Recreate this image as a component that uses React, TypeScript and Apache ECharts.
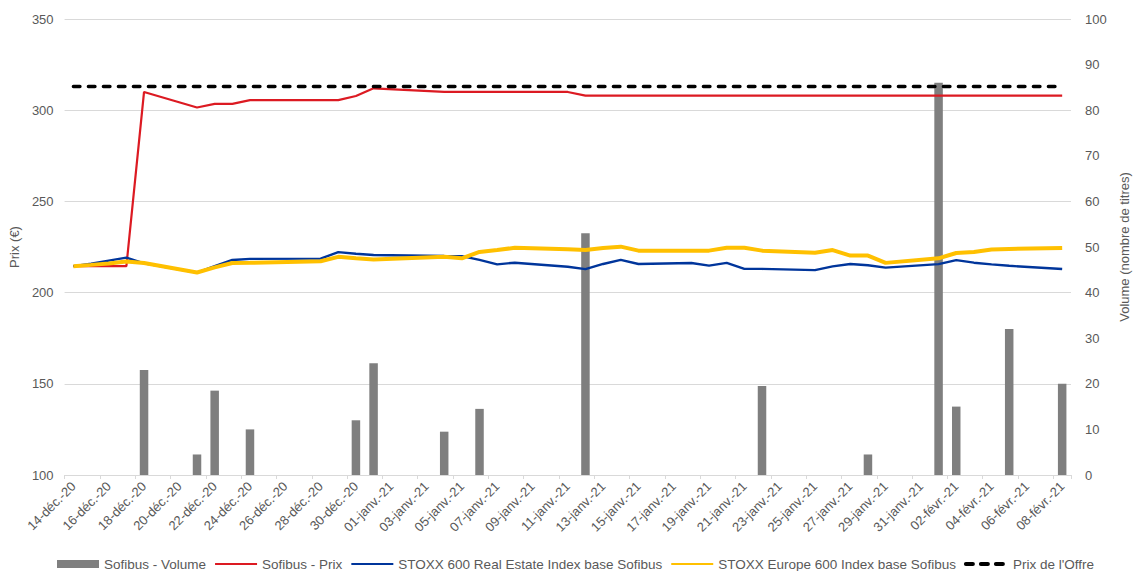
import React, { useEffect, useRef } from "react";
import * as echarts from "echarts";

// 57 calendar days, 14-déc.-20 → 08-févr.-21 (rows = weeks Mon..Sun)
const days = [
  "14-déc.-20", "15-déc.-20", "16-déc.-20", "17-déc.-20", "18-déc.-20", "19-déc.-20", "20-déc.-20",
  "21-déc.-20", "22-déc.-20", "23-déc.-20", "24-déc.-20", "25-déc.-20", "26-déc.-20", "27-déc.-20",
  "28-déc.-20", "29-déc.-20", "30-déc.-20", "31-déc.-20", "01-janv.-21", "02-janv.-21", "03-janv.-21",
  "04-janv.-21", "05-janv.-21", "06-janv.-21", "07-janv.-21", "08-janv.-21", "09-janv.-21", "10-janv.-21",
  "11-janv.-21", "12-janv.-21", "13-janv.-21", "14-janv.-21", "15-janv.-21", "16-janv.-21", "17-janv.-21",
  "18-janv.-21", "19-janv.-21", "20-janv.-21", "21-janv.-21", "22-janv.-21", "23-janv.-21", "24-janv.-21",
  "25-janv.-21", "26-janv.-21", "27-janv.-21", "28-janv.-21", "29-janv.-21", "30-janv.-21", "31-janv.-21",
  "01-févr.-21", "02-févr.-21", "03-févr.-21", "04-févr.-21", "05-févr.-21", "06-févr.-21", "07-févr.-21",
  "08-févr.-21",
];

const volume = [
  null, null, null, null, 23, null, null,
  4.5, 18.5, null, 10, null, null, null,
  null, null, 12, 24.5, null, null, null,
  9.5, null, 14.5, null, null, null, null,
  null, 53, null, null, null, null, null,
  null, null, null, null, 19.5, null, null,
  null, null, null, 4.5, null, null, null,
  86, 15, null, null, 32, null, null,
  20,
];

const prix = [
  214.5, 214.5, 214.5, 214.5, 310, null, null,
  301.5, 303.5, 303.5, 305.5, null, null, null,
  305.5, 305.5, 307.8, 312, null, null, null,
  310, 310, 310, 310, 310, null, null,
  310, 308, 308, 308, 308, null, null,
  308, 308, 308, 308, 308, null, null,
  308, 308, 308, 308, 308, null, null,
  308, 308, 308, 308, 308, null, null,
  308,
];

const stoxxRealEstate = [
  214.5, 215.8, 217.5, 219.2, 216, null, null,
  211, 214.5, 217.9, 218.5, null, null, null,
  218.6, 222.2, 221.3, 220.6, null, null, null,
  220.1, 220, 217.9, 215.5, 216.4, null, null,
  214.2, 212.9, 215.7, 217.9, 215.7, null, null,
  216.2, 214.8, 216.3, 213, 213, null, null,
  212.3, 214.4, 215.7, 215, 213.7, null, null,
  215.6, 217.8, 216.4, 215.5, 214.7, null, null,
  212.9,
];

const stoxxEurope = [
  214.5, 215.2, 216, 217, 216.2, null, null,
  211, 213.8, 216.2, 216.3, null, null, null,
  217.2, 219.6, 218.8, 218.2, null, null, null,
  219.6, 218.8, 222.3, 223.3, 224.6, null, null,
  223.7, 223.4, 224.4, 225.2, 223, null, null,
  223, 223, 224.6, 224.6, 223, null, null,
  221.8, 223.3, 220.3, 220.3, 216.3, null, null,
  218.8, 221.7, 222.3, 223.6, 223.9, null, null,
  224.5,
];

const prixOffre = [
  313, 313, 313, 313, 313, null, null,
  313, 313, 313, 313, null, null, null,
  313, 313, 313, 313, null, null, null,
  313, 313, 313, 313, 313, null, null,
  313, 313, 313, 313, 313, null, null,
  313, 313, 313, 313, 313, null, null,
  313, 313, 313, 313, 313, null, null,
  313, 313, 313, 313, 313, null, null,
  313,
];

const leftTicks = { min: 100, max: 350, interval: 50 };
const rightTicks = { min: 0, max: 100, interval: 10 };

const FONT = "'Liberation Sans', Arial, Helvetica, sans-serif";
const TXT = "#595959";
const GRID = "#d9d9d9";

const noSymbol = { color: "transparent", borderColor: "transparent", borderWidth: 0 };

export default function App() {
  const ref = useRef<HTMLDivElement>(null);
  useEffect(() => {
    document.body.style.margin = "0";
    const chart = echarts.init(ref.current!, null, { renderer: "svg", width: 1139, height: 571 });
    chart.setOption({
      animation: false,
      backgroundColor: "#ffffff",
      textStyle: { fontFamily: FONT, color: TXT },
      grid: { left: 63, top: 19, width: 1019, height: 456, containLabel: false },
      legend: {
        left: 57,
        top: 557,
        padding: 0,
        itemWidth: 42,
        itemHeight: 8,
        itemGap: 8,
        textStyle: { fontSize: 13.5, color: TXT, fontFamily: FONT },
        data: [
          { name: "Sofibus - Volume", icon: "rect" },
          { name: "Sofibus - Prix", itemStyle: noSymbol },
          { name: "STOXX 600 Real Estate Index base Sofibus", itemStyle: noSymbol },
          { name: "STOXX Europe 600 Index base Sofibus", itemStyle: noSymbol },
          {
            name: "Prix de l'Offre",
            itemStyle: noSymbol,
            lineStyle: { width: 4, type: [7, 8], cap: "round", color: "#000000" },
          },
        ],
      },
      xAxis: {
        type: "category",
        data: days,
        boundaryGap: true,
        axisLine: { lineStyle: { color: GRID, width: 1 } },
        axisTick: { show: true, interval: 1, length: 4, alignWithLabel: false, lineStyle: { color: GRID } },
        axisLabel: { interval: 1, rotate: 45, fontSize: 13, color: TXT, margin: 9, fontFamily: FONT },
        splitLine: { show: false },
      },
      yAxis: [
        {
          type: "value",
          ...leftTicks,
          position: "left",
          name: "Prix (€)",
          nameLocation: "middle",
          nameRotate: 90,
          nameGap: 38,
          nameTextStyle: { fontSize: 13, color: TXT, fontFamily: FONT },
          axisLabel: { fontSize: 13, color: TXT, margin: 11, fontFamily: FONT },
          axisLine: { show: false },
          axisTick: { show: false },
          splitLine: { show: true, lineStyle: { color: GRID, width: 1 } },
        },
        {
          type: "value",
          ...rightTicks,
          position: "right",
          name: "Volume (nombre de titres)",
          nameLocation: "middle",
          nameRotate: 90,
          nameGap: 47,
          nameTextStyle: { fontSize: 13, color: TXT, fontFamily: FONT },
          axisLabel: { fontSize: 13, color: TXT, margin: 14, fontFamily: FONT },
          axisLine: { show: false },
          axisTick: { show: false },
          splitLine: { show: false },
        },
      ],
      series: [
        {
          name: "Sofibus - Volume",
          type: "bar",
          yAxisIndex: 1,
          data: volume,
          barWidth: 8.5,
          itemStyle: { color: "#7f7f7f" },
        },
        {
          name: "Sofibus - Prix",
          type: "line",
          data: prix,
          symbol: "none",
          connectNulls: true,
          lineStyle: { color: "#dc1a22", width: 2.2 },
          itemStyle: { color: "#dc1a22" },
        },
        {
          name: "STOXX 600 Real Estate Index base Sofibus",
          type: "line",
          data: stoxxRealEstate,
          symbol: "none",
          connectNulls: true,
          lineStyle: { color: "#00359b", width: 2.4 },
          itemStyle: { color: "#00359b" },
        },
        {
          name: "STOXX Europe 600 Index base Sofibus",
          type: "line",
          data: stoxxEurope,
          symbol: "none",
          connectNulls: true,
          lineStyle: { color: "#ffc000", width: 4 },
          itemStyle: { color: "#ffc000" },
        },
        {
          name: "Prix de l'Offre",
          type: "line",
          data: prixOffre,
          symbol: "none",
          connectNulls: true,
          lineStyle: { color: "#000000", width: 3.5, type: [6.5, 8.5], cap: "round" },
          itemStyle: { color: "#000000" },
        },
      ],
    });
    return () => chart.dispose();
  }, []);
  return (
    <div
      ref={ref}
      style={{ position: "fixed", left: 0, top: 0, width: 1139, height: 571, background: "#fff" }}
    />
  );
}
